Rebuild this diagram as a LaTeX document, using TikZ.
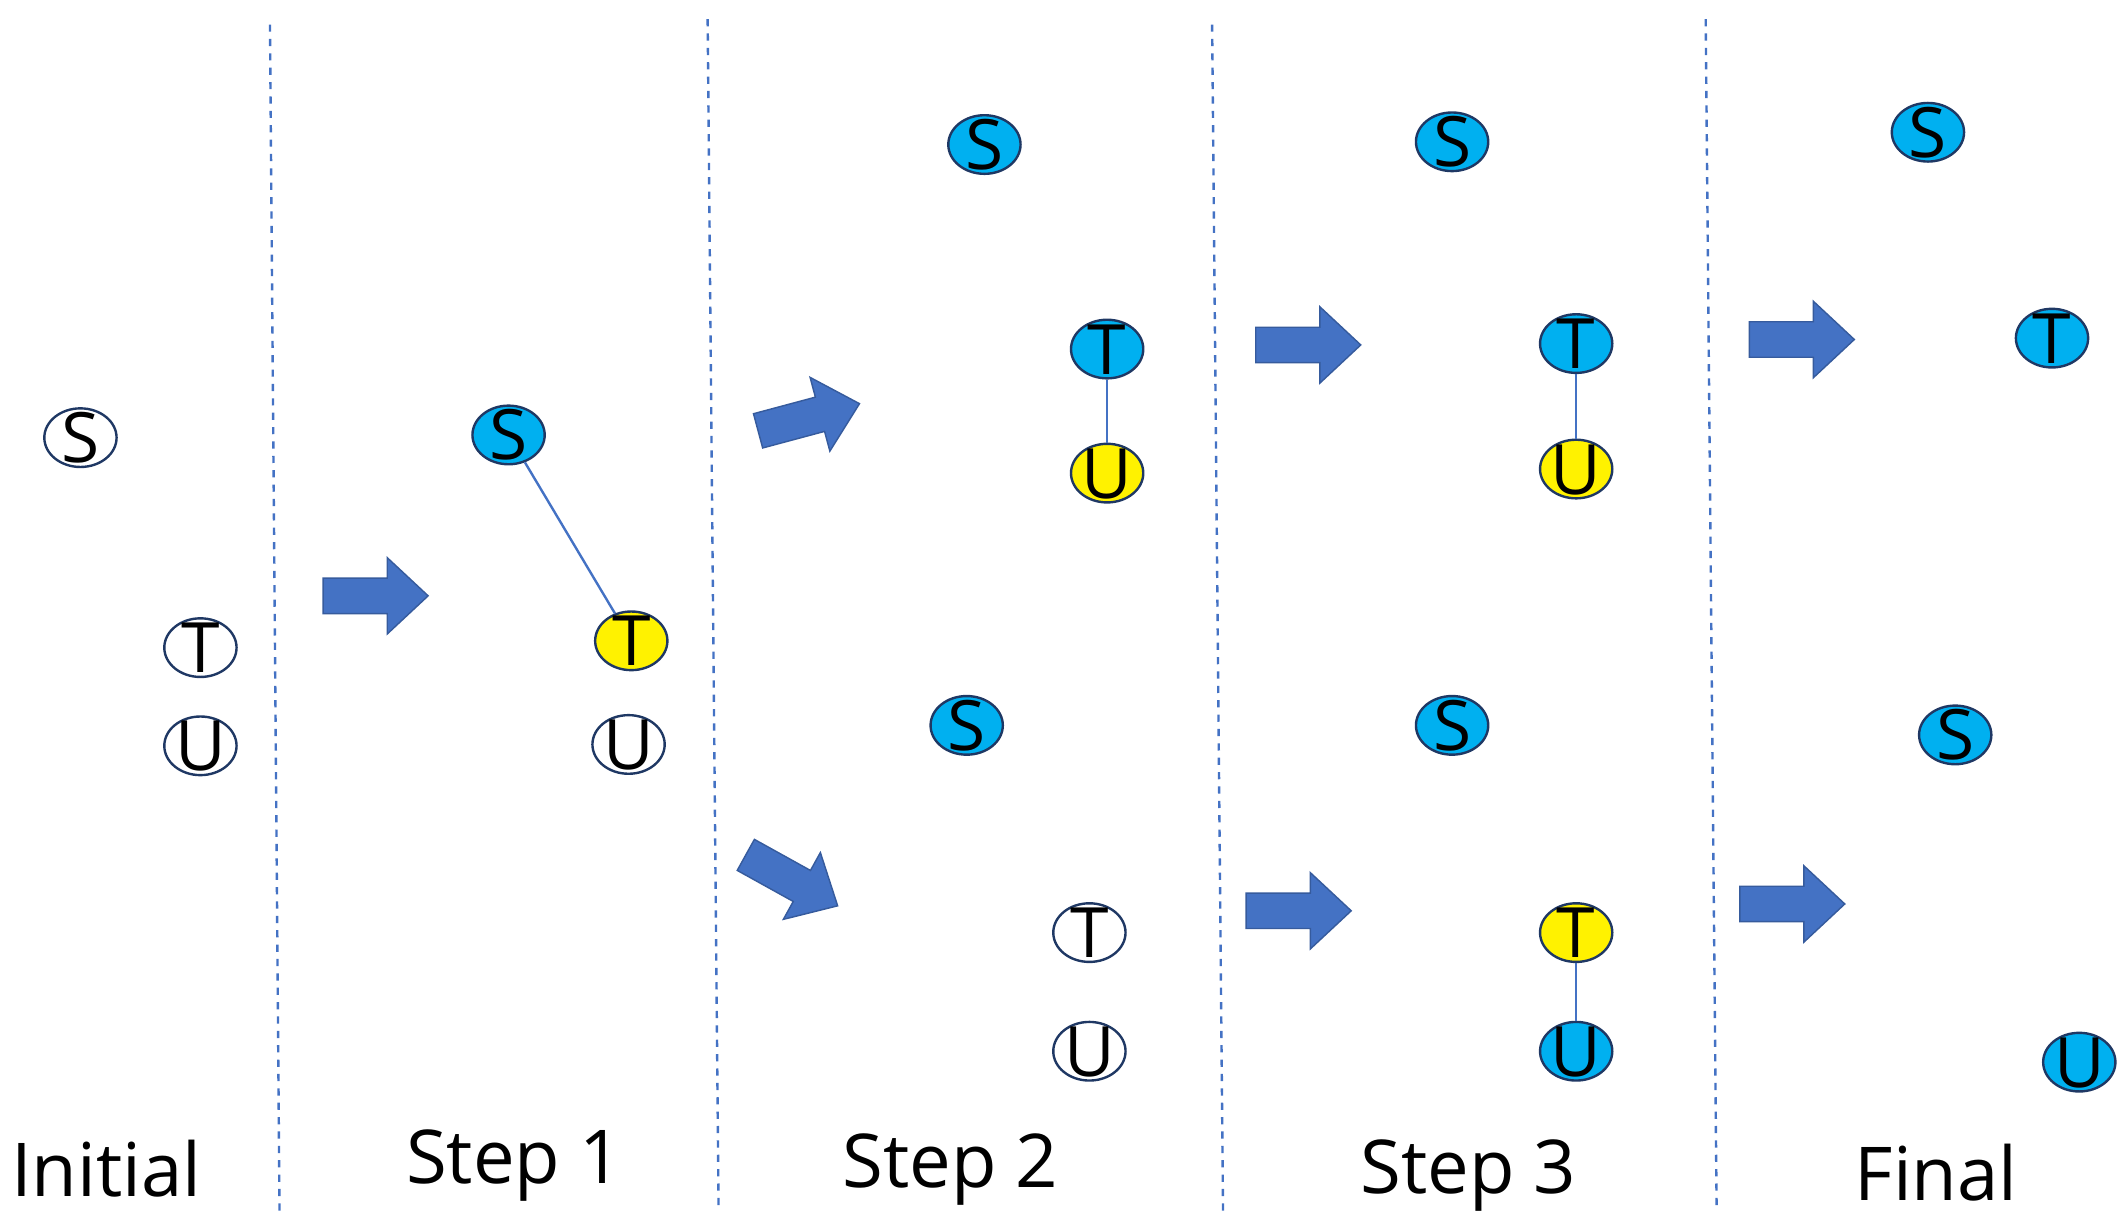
\documentclass[tikz,border=0pt]{standalone}
\usepackage{fontspec}
\setmainfont{Open Sans}
\usetikzlibrary{shapes.geometric}
\definecolor{nblue}{HTML}{00B0F0}
\definecolor{ablue}{HTML}{4472C4}
\definecolor{edge}{HTML}{1F3864}
\definecolor{dline}{HTML}{4472C4}
\newcommand{\ltr}[1]{\makebox[0pt]{\raisebox{-0.36em}[0pt][0pt]{#1}}}
\tikzset{
 nd/.style={ellipse,draw=edge,line width=0.5pt,minimum width=5.3mm,minimum height=4.3mm,inner sep=0pt,font=\fontsize{14.5}{14.5}\selectfont},
 w/.style={nd,fill=white},
 b/.style={nd,fill=nblue},
 yl/.style={nd,fill=yellow},
 lab/.style={font=\fontsize{15.5}{15.5}\selectfont},
 sep/.style={dline,dash pattern=on 1.5pt off 1.5pt,line width=0.5pt},
 link/.style={ablue,line width=0.5pt}
}
\newcommand{\barrow}[3]{\begin{scope}[shift={(#1,#2)},rotate=#3]
\fill[ablue,draw=ablue!80!black,line width=0.3pt] (0,-13)--(47,-13)--(47,-28)--(77,0)--(47,28)--(47,13)--(0,13)--cycle;
\end{scope}}
\begin{document}
\begin{tikzpicture}[x=0.1mm,y=-0.1mm]
\useasboundingbox (0,0) rectangle (1560,903);
\draw[sep] (198,18)--(205,888);
\draw[sep] (519,14)--(527,885);
\draw[sep] (889,18)--(897,888);
\draw[sep] (1251,14)--(1259,885);
% Initial
\node[w] (s0) at (59,321) {\ltr{S}};
\node[w] (t0) at (147,475) {\ltr{T}};
\node[w] (u0) at (147,547) {\ltr{U}};
% Step 1
\node[b] (s1) at (373,319) {\ltr{S}};
\node[yl] (t1) at (463,470) {\ltr{T}};
\node[w] (u1) at (461,546) {\ltr{U}};
\draw[link] (s1)--(t1);
% Step 2
\node[b] (s2a) at (722,106) {\ltr{S}};
\node[b] (t2a) at (812,256) {\ltr{T}};
\node[yl] (u2a) at (812,347) {\ltr{U}};
\draw[link] (t2a)--(u2a);
\node[b] (s2b) at (709,532) {\ltr{S}};
\node[w] (t2b) at (799,684) {\ltr{T}};
\node[w] (u2b) at (799,771) {\ltr{U}};
% Step 3
\node[b] (s3a) at (1065,104) {\ltr{S}};
\node[b] (t3a) at (1156,252) {\ltr{T}};
\node[yl] (u3a) at (1156,344) {\ltr{U}};
\draw[link] (t3a)--(u3a);
\node[b] (s3b) at (1065,532) {\ltr{S}};
\node[yl] (t3b) at (1156,684) {\ltr{T}};
\node[b] (u3b) at (1156,771) {\ltr{U}};
\draw[link] (t3b)--(u3b);
% Final
\node[b] (s4a) at (1414,97) {\ltr{S}};
\node[b] (t4a) at (1505,248) {\ltr{T}};
\node[b] (s4b) at (1434,539) {\ltr{S}};
\node[b] (u4b) at (1525,779) {\ltr{U}};
% arrows
\barrow{237}{437}{0}
\barrow{556}{316}{15}
\barrow{547}{627}{-29}
\barrow{921}{253}{0}
\barrow{914}{668}{0}
\barrow{1283}{249}{0}
\barrow{1276}{663}{0}
% labels
\node[lab] (l0) at (78,857) {Initial};
\node[lab] (l1) at (377,855) {Step 1};
\node[lab] (l2) at (697,858) {Step 2};
\node[lab] (l3) at (1077,862) {Step 3};
\node[lab] (l4) at (1420,860) {Final};
\end{tikzpicture}
\end{document}
